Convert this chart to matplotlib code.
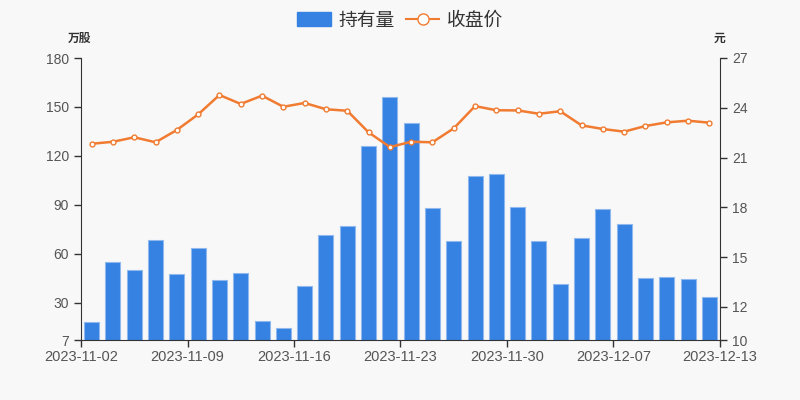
import numpy as np
import matplotlib
matplotlib.use("Agg")
import matplotlib.pyplot as plt
from matplotlib.lines import Line2D
from matplotlib.patches import Patch

plt.rcParams['font.family'] = ['Noto Sans CJK SC', 'DejaVu Sans']

dates = ['2023-11-02', '2023-11-03', '2023-11-06', '2023-11-07', '2023-11-08',
         '2023-11-09', '2023-11-10', '2023-11-13', '2023-11-14', '2023-11-15',
         '2023-11-16', '2023-11-17', '2023-11-20', '2023-11-21', '2023-11-22',
         '2023-11-23', '2023-11-24', '2023-11-27', '2023-11-28', '2023-11-29',
         '2023-11-30', '2023-12-01', '2023-12-04', '2023-12-05', '2023-12-06',
         '2023-12-07', '2023-12-08', '2023-12-11', '2023-12-12', '2023-12-13']

# 持有量（万股）
holdings = [18.0, 54.7, 49.8, 68.2, 47.7, 63.6, 43.8, 48.3, 18.7, 14.4,
            40.3, 71.6, 76.9, 126.0, 155.9, 139.9, 88.0, 67.6, 107.6, 108.7,
            88.6, 67.7, 41.5, 69.6, 87.4, 78.2, 45.2, 45.7, 44.4, 33.2]

# 收盘价（元）
close = [21.83, 21.95, 22.22, 21.92, 22.66, 23.60, 24.77, 24.23, 24.73, 24.06,
         24.29, 23.91, 23.82, 22.52, 21.63, 21.95, 21.92, 22.76, 24.10, 23.85,
         23.84, 23.64, 23.79, 22.94, 22.72, 22.56, 22.90, 23.12, 23.22, 23.10]

bar_color = '#3582e2'
line_color = '#f07b31'
axis_color = '#333333'
text_color = '#555555'

fig = plt.figure(figsize=(8, 4), dpi=100, facecolor='#f8f8f8')
ax = fig.add_axes([0.10125, 0.15, 0.79875, 0.705])
ax.set_facecolor('#f8f8f8')
ax2 = ax.twinx()

x = np.arange(len(dates)) + 0.5
ax.bar(x, holdings, width=0.7, bottom=0, color=bar_color,
       edgecolor='#8fb8ee', linewidth=0.8, zorder=2)
ax2.plot(x, close, color=line_color, linewidth=1.8, marker='o', markersize=3.5,
         markerfacecolor='white', markeredgecolor=line_color, markeredgewidth=1,
         zorder=3)

ax.set_xlim(0, len(dates))
ax.set_ylim(7, 180)
ax.set_yticks([7, 30, 60, 90, 120, 150, 180])
ax2.set_ylim(10, 27)
ax2.set_yticks([10, 12, 15, 18, 21, 24, 27])

tick_pos = [0, 5, 10, 15, 20, 25, 30]
tick_lab = [dates[0], dates[5], dates[10], dates[15], dates[20], dates[25], dates[29]]
ax.set_xticks(tick_pos)
ax.set_xticklabels(tick_lab)

for a in (ax, ax2):
    for s in a.spines.values():
        s.set_visible(False)
    a.tick_params(colors=axis_color, labelcolor=text_color, labelsize=10,
                  length=5, width=1)
    for lab in a.get_yticklabels():
        lab.set_family(['Liberation Sans', 'DejaVu Sans'])
for lab in ax.get_xticklabels():
    lab.set_family(['Liberation Sans', 'DejaVu Sans'])
    lab.set_fontsize(10.5)
ax.spines['left'].set_visible(True)
ax.spines['left'].set_color(axis_color)
ax.spines['bottom'].set_visible(True)
ax.spines['bottom'].set_color(axis_color)
ax2.spines['right'].set_visible(True)
ax2.spines['right'].set_color(axis_color)
ax.tick_params(axis='x', pad=2)

fig.text(0.10, 0.905, '万股', ha='center', va='center', fontsize=8.5,
         fontweight='bold', color='#333333')
fig.text(0.9, 0.905, '元', ha='center', va='center', fontsize=8.5,
         fontweight='bold', color='#333333')

handles = [Patch(facecolor=bar_color, edgecolor=bar_color),
           Line2D([0], [0], color=line_color, linewidth=1.5, marker='o',
                  markersize=8, markerfacecolor='white',
                  markeredgecolor=line_color)]
fig.legend(handles, ['持有量', '收盘价'], loc='upper center',
           bbox_to_anchor=(0.5, 1.018), ncol=2, frameon=False, fontsize=13.5,
           handlelength=1.8, handleheight=0.8, columnspacing=0.6,
           handletextpad=0.4, labelcolor='#333333')

fig.savefig('out.png', dpi=100, facecolor=fig.get_facecolor())
